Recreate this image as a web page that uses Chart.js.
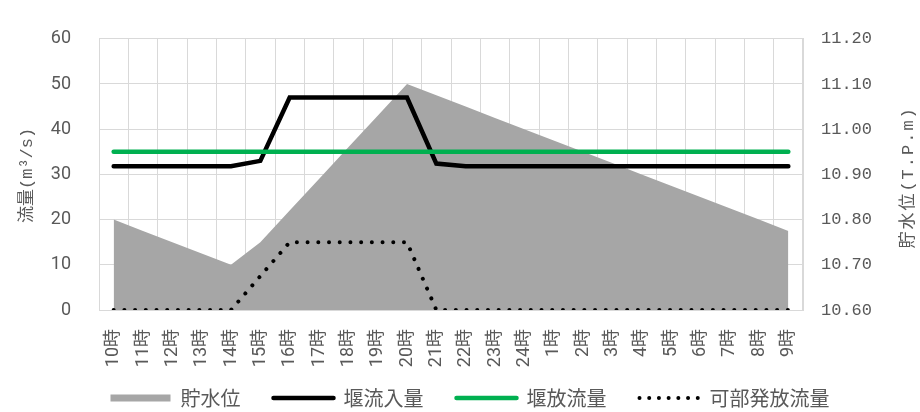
<!DOCTYPE html>
<html lang="ja">
<head>
<meta charset="utf-8">
<title>貯水位・流量</title>
<script src="https://cdn.jsdelivr.net/npm/chart.js@4.4.1/dist/chart.umd.min.js"></script>
<style>
  html, body { margin: 0; padding: 0; background: #ffffff; }
  #wrap { width: 920px; height: 412px; }
</style>
</head>
<body>
<div id="wrap"><canvas id="chart" width="920" height="412"></canvas></div>
<script>
// Hourly labels, 10時 through 9時 of the next day
const hours = ['10時','11時','12時','13時','14時','15時','16時','17時','18時','19時','20時','21時',
               '22時','23時','24時','1時','2時','3時','4時','5時','6時','7時','8時','9時'];

// 貯水位 (T.P.m), right axis
const storageLevel = [10.80, 10.775, 10.75, 10.725, 10.70, 10.75, 10.82, 10.89, 10.96, 11.03, 11.10, 11.075,
                      11.05, 11.025, 11.00, 10.975, 10.95, 10.925, 10.90, 10.875, 10.85, 10.825, 10.80, 10.775];

// 堰流入量 (m³/s)
const weirInflow = [31.8, 31.8, 31.8, 31.8, 31.8, 33.0, 47, 47, 47, 47, 47, 32.4,
                    31.8, 31.8, 31.8, 31.8, 31.8, 31.8, 31.8, 31.8, 31.8, 31.8, 31.8, 31.8];

// 堰放流量 (m³/s)
const weirOutflow = [35, 35, 35, 35, 35, 35, 35, 35, 35, 35, 35, 35,
                     35, 35, 35, 35, 35, 35, 35, 35, 35, 35, 35, 35];

// 可部発放流量 (m³/s)
const kabeRelease = [0, 0, 0, 0, 0, 7.5, 15, 15, 15, 15, 15, 0,
                     0, 0, 0, 0, 0, 0, 0, 0, 0, 0, 0, 0];

// Axis ranges and titles
const flowTicks = { min: 0, max: 60, step: 10 };
const levelTicks = { min: 10.6, max: 11.2, step: 0.1 };
const flowTitle = '流量(m³/s)';
const levelTitle = '貯水位(T.P.m)';

const TEXT = '#595959';
const GRID = '#d9d9d9';
const AREA = '#a6a6a6';
const GREEN = '#00b050';

// Rotated axis titles, both reading bottom to top
const axisTitles = {
  id: 'axisTitles',
  afterDraw(chart) {
    const { ctx, chartArea } = chart;
    const cy = (chartArea.top + chartArea.bottom) / 2;
    ctx.save();
    ctx.fillStyle = TEXT;
    ctx.textAlign = 'center';
    ctx.textBaseline = 'middle';
    ctx.font = "17px 'Liberation Mono', 'Noto Sans CJK JP'";
    ctx.save();
    ctx.translate(27, cy + 1);
    ctx.rotate(-Math.PI / 2);
    ctx.fillText(flowTitle, 0, 0);
    ctx.restore();
    ctx.save();
    ctx.translate(908, cy + 3);
    ctx.rotate(-Math.PI / 2);
    ctx.letterSpacing = '2px';
    ctx.fillText(levelTitle, 0, 0);
    ctx.restore();
    ctx.restore();
  }
};

// The legend row sits a little higher, overlapping the space
// reserved for the rotated hour labels.
const LEGEND_LIFT = 17;
const liftLegend = {
  id: 'liftLegend',
  afterLayout(chart) {
    const lg = chart.legend;
    if (lg) {
      lg.top -= LEGEND_LIFT;
      lg.height += LEGEND_LIFT;
    }
  }
};

new Chart(document.getElementById('chart'), {
  type: 'line',
  data: {
    labels: hours,
    datasets: [
      {
        label: '貯水位',
        data: storageLevel,
        yAxisID: 'y1',
        fill: 'start',
        backgroundColor: AREA,
        borderColor: 'rgba(0,0,0,0)',
        borderWidth: 0,
        pointRadius: 0,
        tension: 0,
        order: 4
      },
      {
        label: '堰流入量',
        data: weirInflow,
        yAxisID: 'y',
        borderColor: '#000000',
        backgroundColor: '#000000',
        borderWidth: 4.5,
        borderCapStyle: 'round',
        borderJoinStyle: 'miter',
        pointRadius: 0,
        fill: false,
        tension: 0,
        order: 3
      },
      {
        label: '堰放流量',
        data: weirOutflow,
        yAxisID: 'y',
        borderColor: GREEN,
        backgroundColor: GREEN,
        borderWidth: 4.5,
        borderCapStyle: 'round',
        pointRadius: 0,
        fill: false,
        tension: 0,
        order: 1
      },
      {
        label: '可部発放流量',
        data: kabeRelease,
        yAxisID: 'y',
        borderColor: '#000000',
        backgroundColor: '#000000',
        borderWidth: 4,
        borderCapStyle: 'round',
        borderDash: [0.01, 10.7],
        pointRadius: 0,
        fill: false,
        tension: 0,
        order: 2
      }
    ]
  },
  options: {
    responsive: false,
    animation: false,
    devicePixelRatio: 1,
    layout: { padding: { left: 20, top: 13, right: 0, bottom: 0 } },
    plugins: {
      tooltip: { enabled: false },
      legend: {
        position: 'bottom',
        maxHeight: 40,
        labels: {
          usePointStyle: true,
          pointStyleWidth: 60,
          boxHeight: 7,
          padding: 33,
          color: TEXT,
          font: { family: "'Noto Sans CJK JP'", size: 20 },
          generateLabels(chart) {
            return chart.data.datasets.map((ds, i) => {
              const isArea = i === 0;
              return {
                text: ds.label,
                datasetIndex: i,
                hidden: false,
                fontColor: TEXT,
                pointStyle: isArea ? 'rect' : 'line',
                fillStyle: isArea ? AREA : ds.borderColor,
                strokeStyle: isArea ? AREA : ds.borderColor,
                lineWidth: isArea ? 0 : ds.borderWidth,
                lineCap: isArea ? 'butt' : 'round',
                lineDash: ds.borderDash ? [0.01, 9.7] : []
              };
            });
          }
        }
      }
    },
    scales: {
      x: {
        offset: true,
        grid: { display: true, offset: true, color: GRID, lineWidth: 1, drawTicks: false },
        border: { display: true, color: GRID, width: 1 },
        ticks: {
          autoSkip: false,
          minRotation: 90,
          maxRotation: 90,
          padding: 19,
          color: TEXT,
          font: { family: "Roboto, 'Noto Sans CJK JP'", size: 18 }
        },
        afterFit(scale) { scale.height = 62; }
      },
      y: {
        position: 'left',
        min: flowTicks.min,
        max: flowTicks.max,
        grid: { color: GRID, lineWidth: 1, drawTicks: false },
        border: { display: true, color: GRID, width: 1 },
        ticks: {
          stepSize: flowTicks.step,
          padding: 28,
          color: TEXT,
          font: { family: 'Roboto', size: 18 }
        },
        afterFit(scale) { scale.width = 79; }
      },
      y1: {
        position: 'right',
        min: levelTicks.min,
        max: levelTicks.max,
        grid: { display: false, drawTicks: false },
        border: { display: true, color: GRID, width: 1 },
        ticks: {
          stepSize: levelTicks.step,
          padding: 18,
          color: TEXT,
          font: { family: "'Liberation Mono'", size: 17 },
          callback: (v) => Number(v).toFixed(2)
        },
        afterFit(scale) { scale.width = 117; }
      }
    }
  },
  plugins: [axisTitles, liftLegend]
});
</script>
</body>
</html>
